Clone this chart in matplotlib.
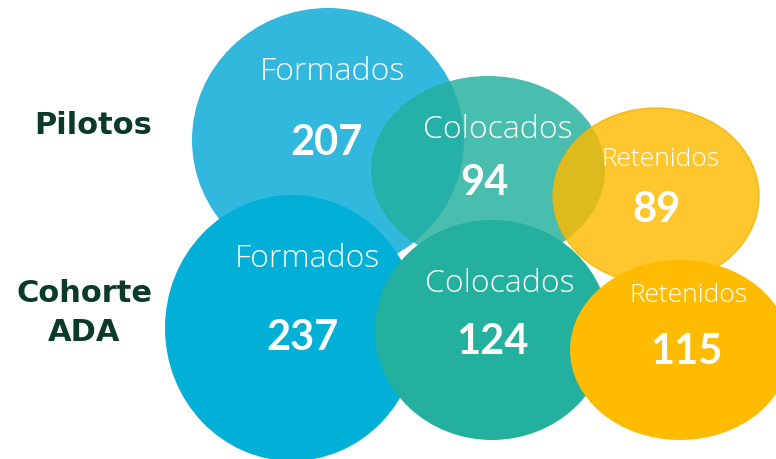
"""Bubble infographic: Pilotos vs Cohorte ADA (formados / colocados / retenidos)."""

import matplotlib
matplotlib.use("Agg")
import matplotlib.pyplot as plt
from matplotlib.patches import Ellipse

# Data
groups = ["Pilotos", "Cohorte\nADA"]
stages = ["Formados", "Colocados", "Retenidos"]
pilotos = [207, 94, 89]
cohorte = [237, 124, 115]

# Layout in pixels: (cx, cy, width, height) per bubble, row per group
bubbles = [
    [(328, 140, 272, 264), (488, 170, 234, 188), (656, 196, 206, 176)],
    [(292, 328, 254, 266), (492, 330, 234, 220), (680, 350, 220, 180)],
]
label_pos = [
    [(332, 72), (498, 130), (660, 160)],
    [(307, 259), (500, 284), (688, 295)],
]
value_pos = [
    [(327, 143), (484, 183), (656, 210)],
    [(303, 338), (492, 342), (686, 352)],
]
group_pos = [(93, 125), (84, 313)]

colors = [
    ["#33b8dd", "#24b09e", "#ffbb00"],
    ["#02afd6", "#24b09e", "#ffbb00"],
]
alphas = [[1.0, 0.83, 0.82], [1.0, 1.0, 1.0]]
# draw order (row, col): keeps the overlaps as in the original
order = [(0, 0), (1, 0), (0, 1), (0, 2), (1, 1), (1, 2)]

W, H = 776, 459
fig = plt.figure(figsize=(W / 100, H / 100), dpi=100)
ax = fig.add_axes([0, 0, 1, 1])
ax.set_xlim(0, W)
ax.set_ylim(H, 0)
ax.axis("off")

values = [pilotos, cohorte]
for z, (r, c) in enumerate(order):
    cx, cy, w, h = bubbles[r][c]
    edge = "#f2b400" if (r == 0 and c == 2) else "none"
    ax.add_patch(Ellipse((cx, cy), w, h, facecolor=colors[r][c],
                         alpha=alphas[r][c], edgecolor=edge, lw=1, zorder=z + 1))

for r in range(2):
    for c in range(3):
        lx, ly = label_pos[r][c]
        ax.text(lx, ly, stages[c], ha="center", va="center", color="white",
                fontsize=23 if c < 2 else 19, family="Open Sans",
                fontweight="light", zorder=10)
        vx, vy = value_pos[r][c]
        ax.text(vx, vy, str(values[r][c]), ha="center", va="center",
                color="white", fontsize=30, family="Lato",
                fontweight="bold", zorder=10)

for g, (gx, gy) in zip(groups, group_pos):
    ax.text(gx, gy, g, ha="center", va="center", color="#0b3a2c",
            fontsize=22, family="DejaVu Sans", fontweight="bold",
            linespacing=1.4)

fig.savefig("out.png", dpi=100)
